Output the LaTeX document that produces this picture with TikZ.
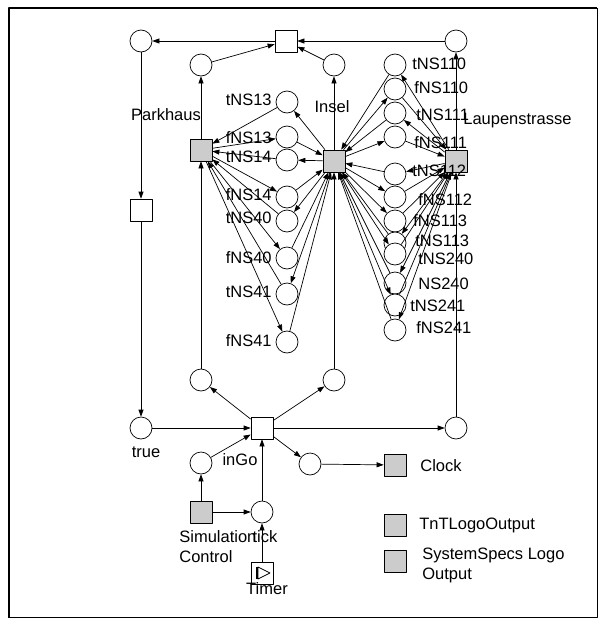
\documentclass[tikz,border=0pt]{standalone}
\usepackage{fontspec}
\setmainfont{Liberation Sans}
\usetikzlibrary{arrows.meta}

\tikzset{
  place/.style={circle, draw, fill=white, minimum size=22pt, inner sep=0pt},
  trans/.style={rectangle, draw, fill=white, minimum size=22pt, inner sep=0pt},
  subnet/.style={trans, fill=gray!40},
  lbl/.style={inner sep=0pt}
}

\begin{document}
\begin{tikzpicture}[x=1pt, y=-1pt, line width=0.7pt, line join=round,
    font=\fontsize{16.5}{20}\selectfont, >={Triangle[length=7pt,width=5pt]}]
  \useasboundingbox (0,0) rectangle (604,624);
  \draw (597,8) -- (597,617) -- (8,617);
  \draw[line width=2.6pt] (9,617) -- (9,8) -- (597,8);

  % main ring
  \node[place] (pTL) at (141,41) {};
  \node[trans] (tTop) at (286,41) {};
  \node[place] (pTR) at (456,41) {};
  \node[place] (pPu) at (201,65) {};
  \node[place] (pIu) at (334,65) {};
  \node[trans] (tLeft) at (141,210) {};
  \node[place] (pPl) at (201,380) {};
  \node[place] (pIl) at (334,380) {};
  \node[place] (pTrue) at (141,428) {};
  \node[trans] (tGo) at (262,428) {};
  \node[place] (pRight) at (456,428) {};
  \node[place] (pInGo) at (201,463) {};
  \node[place] (pClk) at (310,464) {};
  \node[place] (pTick) at (262,512) {};

  % sub nets
  \node[subnet] (Parkhaus) at (201,150) {};
  \node[subnet] (Insel) at (334,161) {};
  \node[subnet] (Laupen) at (456,161) {};
  \node[subnet] (Clock) at (395,465) {};
  \node[subnet] (SimCtrl) at (201,512) {};
  \node[subnet] (TnT) at (395,525) {};
  \node[subnet] (SysSpecs) at (395,561) {};
  \node[trans] (Timer) at (262,573) {};
  \draw[line width=1.4pt] (257,567) -- (257,579);
  \draw (258,567) -- (270,573) -- (258,579) -- cycle;

  \node[lbl] (lPark) at (166,115) {Parkhaus};
  \node[lbl] (lInsel) at (332,107) {Insel};
  \node[lbl, anchor=west] (lLaupen) at (463,121) {Laupenstrasse};
  \node[lbl] (lTrue) at (146,452) {true};
  \node[lbl] (lInGo) at (240,460) {inGo};
  \node[lbl, anchor=west] (lClock) at (420,466) {Clock};
  \node[lbl, anchor=west, align=left] (lSim) at (179,547) {Simulation\\Control};
  \node[lbl] (lTick) at (265,537) {tick};
  \node[lbl] (lTimer) at (267,589) {Timer};
  \node[lbl, anchor=west] (lTnT) at (419,525) {TnTLogoOutput};
  \node[lbl, anchor=west, align=left] (lSys) at (422,565) {SystemSpecs Logo\\Output};

  % Parkhaus <-> Insel
  \foreach \nm/\y/\ly in {tNS13/102/100, fNS13/137/138, tNS14/160/157, fNS14/197/195,
      tNS40/221/218, fNS40/258/258, tNS41/294/292, fNS41/342/341}{
    \node[place] (\nm) at (287,\y) {};
    \node[lbl, anchor=east] (l\nm) at (272,\ly) {\nm};
  }
  \foreach \nm in {tNS13,tNS14,tNS40,tNS41}{
    \draw[->] (Insel) -- (\nm);
    \draw[->] (\nm) -- (Parkhaus);
  }
  \foreach \nm in {fNS13,fNS14,fNS40,fNS41}{
    \draw[->] (Parkhaus) -- (\nm);
    \draw[->] (\nm) -- (Insel);
  }

  % Insel <-> Laupenstrasse
  \foreach \nm/\y/\lx/\ly in {tNS110/65/412/64, fNS110/89/414/88, tNS111/113/416/115,
      fNS111/137/414/143, tNS112/174/412/171, fNS112/197/418/200, fNS113/221/413/221,
      tNS113/243/415/241, tNS240/254/418/259, NS240/283/418/284, tNS241/305/410/306,
      fNS241/330/416/328}{
    \node[place] (\nm) at (395,\y) {};
    \node[lbl, anchor=west] (l\nm) at (\lx,\ly) {\nm};
  }
  \foreach \nm in {tNS110,tNS111,tNS112,tNS113,NS240,fNS241}{
    \draw[->] (Laupen) -- (\nm);
    \draw[->] (\nm) -- (Insel);
  }
  \foreach \nm in {fNS110,fNS111,fNS112,fNS113,tNS240,tNS241}{
    \draw[->] (Insel) -- (\nm);
    \draw[->] (\nm) -- (Laupen);
  }

  % ring arcs
  \draw[->] (pTR) -- (tTop);
  \draw[->] (tTop) -- (pTL);
  \draw[->] (pPu) -- (tTop);
  \draw[->] (pIu) -- (tTop);
  \draw[->] (pTL) -- (tLeft);
  \draw[->] (tLeft) -- (pTrue);
  \draw[->] (pTrue) -- (tGo);
  \draw[->] (tGo) -- (pRight);
  \draw[->] (pRight) -- (Laupen);
  \draw[->] (Laupen) -- (pTR);
  \draw[->] (tGo) -- (pPl);
  \draw[->] (tGo) -- (pIl);
  \draw[->] (pPl) -- (Parkhaus);
  \draw[->] (Parkhaus) -- (pPu);
  \draw[->] (pIl) -- (Insel);
  \draw[->] (Insel) -- (pIu);
  \draw[->] (tGo) -- (pClk);
  \draw[->] (pClk) -- (Clock);
  \draw[->] (pInGo) -- (tGo);
  \draw[->] (pTick) -- (tGo);
  \draw[->] (SimCtrl) -- (pInGo);
  \draw[->] (SimCtrl) -- (pTick);
  \draw[->] (Timer) -- (pTick);
\end{tikzpicture}
\end{document}
